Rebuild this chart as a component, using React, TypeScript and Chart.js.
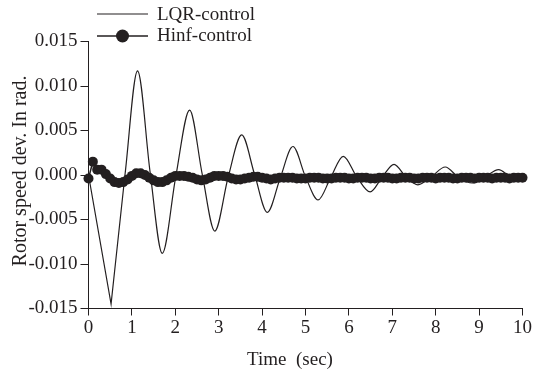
import React, { useEffect, useRef } from "react";
import { Chart, registerables } from "chart.js";

Chart.register(...registerables);

// LQR-control response (time in s, rotor speed deviation in rad)
const lqrTime = [0, 0.52, 0.84, 1.13, 1.42, 1.70, 2.01, 2.33, 2.62, 2.91, 3.22, 3.53, 3.83, 4.12, 4.42, 4.71, 5.00, 5.29, 5.58, 5.87, 6.18, 6.49, 6.76, 7.04, 7.31, 7.59, 7.90, 8.22, 8.53, 8.84, 9.14, 9.45, 9.73, 10.0];
const lqrValue = [0, -0.0145, 0.0, 0.0117, 0.0003, -0.0088, -0.0002, 0.0073, 0.0001, -0.0063, -0.0002, 0.0045, 0.0, -0.0042, -0.0003, 0.0032, -0.0002, -0.0028, -0.0003, 0.0021, -0.0002, -0.0019, -0.0003, 0.0012, -0.0002, -0.0011, -0.0002, 0.0009, -0.0003, -0.0009, -0.0002, 0.0006, -0.0002, -0.0003];

// Hinf-control response, sampled every 0.1 s
const hinfTime = [
  0, 0.1, 0.2, 0.3, 0.4, 0.5, 0.6, 0.7, 0.8, 0.9,
  1, 1.1, 1.2, 1.3, 1.4, 1.5, 1.6, 1.7, 1.8, 1.9,
  2, 2.1, 2.2, 2.3, 2.4, 2.5, 2.6, 2.7, 2.8, 2.9,
  3, 3.1, 3.2, 3.3, 3.4, 3.5, 3.6, 3.7, 3.8, 3.9,
  4, 4.1, 4.2, 4.3, 4.4, 4.5, 4.6, 4.7, 4.8, 4.9,
  5, 5.1, 5.2, 5.3, 5.4, 5.5, 5.6, 5.7, 5.8, 5.9,
  6, 6.1, 6.2, 6.3, 6.4, 6.5, 6.6, 6.7, 6.8, 6.9,
  7, 7.1, 7.2, 7.3, 7.4, 7.5, 7.6, 7.7, 7.8, 7.9,
  8, 8.1, 8.2, 8.3, 8.4, 8.5, 8.6, 8.7, 8.8, 8.9,
  9, 9.1, 9.2, 9.3, 9.4, 9.5, 9.6, 9.7, 9.8, 9.9,
  10,
];
const hinfValue = [
  -0.0004, 0.0015, 0.0006, 0.0006, 0.0001, -0.0004, -0.0008, -0.0009, -0.0008, -0.0005,
  -0.0001, 0.0002, 0.0002, 0.0000, -0.0003, -0.0006, -0.0008, -0.0008, -0.0006, -0.0003,
  -0.0001, -0.0001, -0.0001, -0.0002, -0.0003, -0.0005, -0.0006, -0.0005, -0.0003, -0.0001,
  -0.0001, -0.0001, -0.0002, -0.0004, -0.0005, -0.0005, -0.0004, -0.0003, -0.0002, -0.0002,
  -0.0003, -0.0004, -0.0005, -0.0004, -0.0003, -0.0003, -0.0003, -0.0003, -0.0004, -0.0004,
  -0.0004, -0.0003, -0.0003, -0.0003, -0.0004, -0.0004, -0.0004, -0.0003, -0.0003, -0.0003,
  -0.0004, -0.0004, -0.0003, -0.0003, -0.0003, -0.0004, -0.0004, -0.0003, -0.0003, -0.0003,
  -0.0004, -0.0004, -0.0003, -0.0003, -0.0003, -0.0004, -0.0004, -0.0003, -0.0003, -0.0003,
  -0.0004, -0.0003, -0.0003, -0.0003, -0.0004, -0.0004, -0.0003, -0.0003, -0.0003, -0.0004,
  -0.0003, -0.0003, -0.0003, -0.0004, -0.0003, -0.0003, -0.0003, -0.0004, -0.0003, -0.0003,
  -0.0003,
];

const seriesNames = ["LQR-control", "Hinf-control"];
const xTitle = "Time  (sec)";
const yTitle = "Rotor speed dev. In rad.";

const INK = "#231f20";
const FONT = "Liberation Serif";

const annotationPlugin = {
  id: "legendAndTitles",
  afterDraw(chart: any) {
    const ctx = chart.ctx;
    ctx.save();
    ctx.strokeStyle = INK;
    ctx.fillStyle = INK;
    ctx.font = `19px "${FONT}"`;
    ctx.textBaseline = "middle";
    ctx.textAlign = "left";
    // legend: LQR
    ctx.lineWidth = 1.2;
    ctx.beginPath();
    ctx.moveTo(97, 14);
    ctx.lineTo(148, 14);
    ctx.stroke();
    ctx.fillText(seriesNames[0], 157, 15);
    // legend: Hinf
    ctx.lineWidth = 1.5;
    ctx.beginPath();
    ctx.moveTo(97, 36);
    ctx.lineTo(148, 36);
    ctx.stroke();
    ctx.beginPath();
    ctx.arc(122.5, 36, 6.5, 0, Math.PI * 2);
    ctx.fill();
    ctx.fillText(seriesNames[1], 157, 36);
    // x axis title
    ctx.textAlign = "center";
    ctx.fillText(xTitle, 290, 360);
    // y axis title
    ctx.font = `20px "${FONT}"`;
    ctx.translate(21, 171);
    ctx.rotate(-Math.PI / 2);
    ctx.fillText(yTitle, 0, 0);
    ctx.restore();
  },
};

export default function App() {
  const ref = useRef<HTMLCanvasElement>(null);

  useEffect(() => {
    document.body.style.margin = "0";
    const canvas = ref.current;
    if (!canvas) return;
    const lqrPts = lqrTime.map((t, i) => ({ x: t, y: lqrValue[i] }));
    const hinfPts = hinfTime.map((t, i) => ({ x: t, y: hinfValue[i] }));

    const chart = new Chart(canvas, {
      type: "line",
      data: {
        datasets: [
          {
            label: seriesNames[1],
            data: hinfPts,
            borderColor: INK,
            backgroundColor: INK,
            borderWidth: 1.5,
            pointRadius: 5,
            pointBorderWidth: 0,
            pointBackgroundColor: INK,
            tension: 0,
            clip: false as any,
            order: 0,
          },
          {
            label: seriesNames[0],
            data: lqrPts.slice(0, 3),
            borderColor: INK,
            borderWidth: 1.2,
            pointRadius: 0,
            tension: 0,
            order: 1,
          },
          {
            label: seriesNames[0] + " ",
            data: lqrPts.slice(2),
            borderColor: INK,
            borderWidth: 1.2,
            pointRadius: 0,
            cubicInterpolationMode: "monotone",
            order: 1,
          },
        ],
      },
      options: {
        responsive: false,
        animation: false,
        layout: { padding: { top: 41.5, right: 11.5, bottom: 0, left: 0 } },
        plugins: {
          legend: { display: false },
          tooltip: { enabled: false },
        },
        scales: {
          x: {
            type: "linear",
            min: 0,
            max: 10,
            border: { display: true, color: INK, width: 1 },
            grid: {
              display: true,
              drawOnChartArea: false,
              drawTicks: true,
              tickLength: 7,
              color: INK,
            },
            ticks: {
              stepSize: 1,
              color: INK,
              padding: 1,
              font: { family: FONT, size: 19 },
              maxRotation: 0,
            },
            title: { display: false },
            afterFit(scale: any) {
              scale.height = 64.5;
            },
          },
          y: {
            type: "linear",
            min: -0.015,
            max: 0.015,
            border: { display: true, color: INK, width: 1 },
            grid: {
              display: true,
              drawOnChartArea: false,
              drawTicks: true,
              tickLength: 8,
              color: INK,
            },
            ticks: {
              stepSize: 0.005,
              color: INK,
              padding: 3,
              font: { family: FONT, size: 19 },
              callback: (v: any) => Number(v).toFixed(3),
            },
            title: { display: false },
            afterFit(scale: any) {
              scale.width = 88.5;
            },
          },
        },
      },
      plugins: [annotationPlugin],
    });
    return () => chart.destroy();
  }, []);

  return (
    <div style={{ width: 534, height: 373 }}>
      <canvas ref={ref} width={534} height={373} />
    </div>
  );
}
